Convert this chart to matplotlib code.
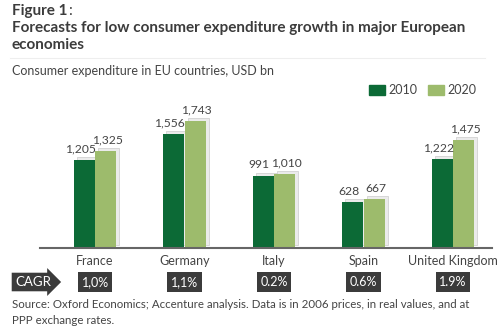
import numpy as np
import matplotlib
matplotlib.use('Agg')
import matplotlib.pyplot as plt
import matplotlib.transforms as mtransforms
from matplotlib.lines import Line2D
from matplotlib.patches import Patch

plt.rcParams['font.family'] = ['Lato', 'DejaVu Sans']

countries = ['France', 'Germany', 'Italy', 'Spain', 'United Kingdom']
exp_2010 = [1205, 1556, 991, 628, 1222]
exp_2020 = [1325, 1743, 1010, 667, 1475]
labels_2010 = ['1,205', '1,556', '991', '628', '1,222']
labels_2020 = ['1,325', '1,743', '1,010', '667', '1,475']
cagr = ['1,0%', '1,1%', '0.2%', '0.6%', '1.9%']

dark_green = '#0c6a36'
light_green = '#9dbb6c'
text_col = '#444444'
title_col = '#3c3c3c'

fig = plt.figure(figsize=(5, 3.34), dpi=100)
W, H = 500, 334
ax = fig.add_axes([40 / W, 1 - 248 / H, 452 / W, 168 / H])

x = np.arange(len(countries))
w = 0.235
off = 0.12

# grey "3d" shadows behind bars
shadow = ax.transData + mtransforms.ScaledTranslation(0.03, 0.03, fig.dpi_scale_trans)
for xs, vals in [(x - off, exp_2010), (x + off, exp_2020)]:
    ax.bar(xs, vals, width=w, color='#ebebeb', edgecolor='#d2d2d2', linewidth=0.6,
           transform=shadow, zorder=1)

ax.bar(x - off, exp_2010, width=w, color=dark_green, zorder=2, label='2010')
ax.bar(x + off, exp_2020, width=w, color=light_green, zorder=2, label='2020')

for i in range(len(countries)):
    ax.annotate(labels_2010[i], (x[i] - off, exp_2010[i]), xytext=(-3, 4),
                textcoords='offset points', ha='center', va='bottom',
                fontsize=8.7, color=text_col)
    ax.annotate(labels_2020[i], (x[i] + off, exp_2020[i]), xytext=(1, 4),
                textcoords='offset points', ha='center', va='bottom',
                fontsize=8.7, color=text_col)

ax.set_xlim(-0.615, 4.436)
ax.set_ylim(0, 2300)
for s in ['top', 'right', 'left']:
    ax.spines[s].set_visible(False)
ax.spines['bottom'].set_color('#666666')
ax.spines['bottom'].set_linewidth(1.5)
ax.set_yticks([])
ax.set_xticks(x)
ax.set_xticklabels(countries, fontsize=9, color=text_col)
ax.tick_params(axis='x', length=0, pad=5)

# CAGR row
trans = mtransforms.blended_transform_factory(ax.transData, fig.transFigure)
for i, c in enumerate(cagr):
    ax.text(x[i], 1 - 282 / H, c, transform=trans, ha='center', va='center',
            fontsize=9, color='white',
            bbox=dict(boxstyle='square,pad=0.3', fc='#3b3b3b', ec='none'))
fig.text(15 / W, 1 - 282 / H, 'CAGR', ha='left', va='center', fontsize=9.5,
         color='white', bbox=dict(boxstyle='rarrow,pad=0.25', fc='#3b3b3b', ec='none'))

# titles
fig_t = fig.text(12 / W, 1 - 11 / H, 'Figure 1', fontsize=11, fontweight='bold',
                 color=title_col, va='center')
fig.canvas.draw()
bb = fig_t.get_window_extent()
fig.text(bb.x1 / W + 0.002, 1 - 11 / H, ':', fontsize=11, color=title_col, va='center')
fig.text(12 / W, 1 - 28 / H, 'Forecasts for low consumer expenditure growth in major European',
         fontsize=11, fontweight='bold', color=title_col, va='center')
fig.text(12 / W, 1 - 45 / H, 'economies', fontsize=11, fontweight='bold',
         color=title_col, va='center')
fig.add_artist(Line2D([10 / W, 485 / W], [1 - 58 / H, 1 - 58 / H],
                      color='#eeeeee', lw=0.8, transform=fig.transFigure))
fig.text(12 / W, 1 - 71 / H, 'Consumer expenditure in EU countries, USD bn',
         fontsize=9, color=text_col, va='center')

handles = [Patch(color=dark_green), Patch(color=light_green)]
fig.legend(handles, ['2010', '2020'], loc='center right',
           bbox_to_anchor=(488 / W, 1 - 90 / H), ncol=2, frameon=False,
           fontsize=9, handlelength=1.3, handleheight=0.9, handletextpad=0.3,
           columnspacing=0.8, labelcolor=text_col)

fig.text(12 / W, 1 - 305 / H,
         'Source: Oxford Economics; Accenture analysis. Data is in 2006 prices, in real values, and at',
         fontsize=8.3, color=text_col, va='center')
fig.text(12 / W, 1 - 320 / H, 'PPP exchange rates.', fontsize=8.3, color=text_col, va='center')

fig.savefig('out.png', dpi=100)
